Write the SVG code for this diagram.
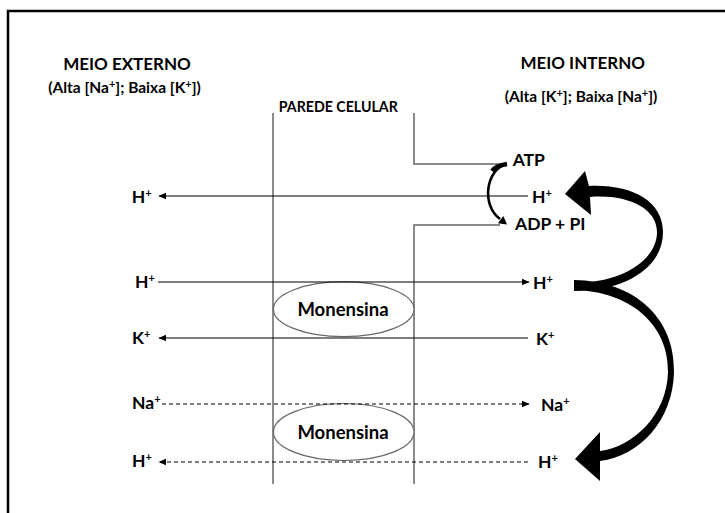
<svg xmlns="http://www.w3.org/2000/svg" width="725" height="513" viewBox="0 0 725 513">
<defs>
<marker id="ah" markerWidth="8" markerHeight="8" refX="7" refY="4" orient="auto" markerUnits="userSpaceOnUse">
<path d="M0,0.8 L7.5,4 L0,7.2 Z" fill="#000"/>
</marker>
<style>
text{font-family:Lato,"Liberation Sans",sans-serif;font-weight:bold;fill:#000}
.t{font-size:17px}
.s{font-size:15.5px}
.p{font-size:14.2px}
.ion{font-size:17.5px}
.mon{font-size:18.5px}
.sup{font-size:11px}
.wall{stroke:#666;stroke-width:1.5;fill:none}
.ln{stroke:#000;stroke-width:1;fill:none}
.dash{stroke:#000;stroke-width:1;fill:none;stroke-dasharray:4 3}
.ell{stroke:#666;stroke-width:1.2;fill:#fff}
.cur{stroke:#000;fill:none}
</style>
</defs>
<rect width="725" height="513" fill="#fff"/>
<path d="M8,513 V11 H725" fill="none" stroke="#000" stroke-width="2.5"/>

<g id="labels">
<text class="t" x="127" y="69.5" text-anchor="middle">MEIO EXTERNO</text>
<text class="s" x="124.5" y="93" text-anchor="middle">(Alta [Na<tspan class="sup" dy="-5">+</tspan><tspan dy="5">]; Baixa [K</tspan><tspan class="sup" dy="-5">+</tspan><tspan dy="5">])</tspan></text>
<text class="t" x="582.7" y="69.3" text-anchor="middle">MEIO INTERNO</text>
<text class="s" x="581" y="102" text-anchor="middle">(Alta [K<tspan class="sup" dy="-5">+</tspan><tspan dy="5">]; Baixa [Na</tspan><tspan class="sup" dy="-5">+</tspan><tspan dy="5">])</tspan></text>
<text class="p" x="338.3" y="111.7" text-anchor="middle">PAREDE CELULAR</text>
</g>

<g id="wall">
<path class="wall" d="M273,113 V484"/>
<path class="wall" d="M414,113 V164 H505"/>
<path class="wall" d="M414,484 V225 H500"/>
</g>

<g id="monensina1">
<ellipse class="ell" cx="343.7" cy="309.2" rx="70.3" ry="27.5"/>
<text class="mon" x="343" y="316" text-anchor="middle">Monensina</text>
</g>
<g id="monensina2">
<ellipse class="ell" cx="343.7" cy="432" rx="70.3" ry="28.5"/>
<text class="mon" x="343" y="439" text-anchor="middle">Monensina</text>
</g>

<g id="connectors">
<path class="ln" d="M528,196 H159" marker-end="url(#ah)"/>
<path class="ln" d="M158,282 H529" marker-end="url(#ah)"/>
<path class="ln" d="M528,338 H159" marker-end="url(#ah)"/>
<path class="dash" d="M162,404 H529" marker-end="url(#ah)"/>
<path class="dash" d="M528,462 H159" marker-end="url(#ah)"/>
<path class="cur" stroke-width="2.6" d="M506,164 C486,170 481,205 500,219"/>
<path class="cur" stroke-width="4.5" d="M507,164 C500,165 495,167 492,171"/>
<path d="M507,224.5 L497.9,223.3 L503.3,216.1 Z" fill="#000"/>
<path d="M574,291 C625,291 663,268 663,232 C663,200 630,184 589,186 L585,171 L565,194 L591,215 L590,197 C625,194 657,207 657,232 C657,260 622,283 574,283 Z" fill="#000"/>
<path d="M574,280 C635,281 675,318 674,372 C673,420 640,456 600,461 L600,481 L575,459 L600,432 L600,451 C633,447 667,415 668,372 C669,325 630,291 574,290 Z" fill="#000"/>
</g>

<g id="atp"><text class="ion" x="512.7" y="166">ATP</text></g>
<g id="adp"><text class="ion" x="515" y="230">ADP + PI</text></g>

<g id="ions-in">
<text class="ion" x="532" y="203">H<tspan class="sup" dy="-6">+</tspan></text>
<text class="ion" x="533" y="289">H<tspan class="sup" dy="-6">+</tspan></text>
<text class="ion" x="536" y="345">K<tspan class="sup" dy="-6">+</tspan></text>
<text class="ion" x="541" y="411">Na<tspan class="sup" dy="-6">+</tspan></text>
<text class="ion" x="538" y="468">H<tspan class="sup" dy="-6">+</tspan></text>
</g>
<g id="ions-out">
<text class="ion" x="131.7" y="202.7">H<tspan class="sup" dy="-6">+</tspan></text>
<text class="ion" x="135" y="288">H<tspan class="sup" dy="-6">+</tspan></text>
<text class="ion" x="132" y="344">K<tspan class="sup" dy="-6">+</tspan></text>
<text class="ion" x="132" y="409">Na<tspan class="sup" dy="-6">+</tspan></text>
<text class="ion" x="132" y="467">H<tspan class="sup" dy="-6">+</tspan></text>
</g>
</svg>
